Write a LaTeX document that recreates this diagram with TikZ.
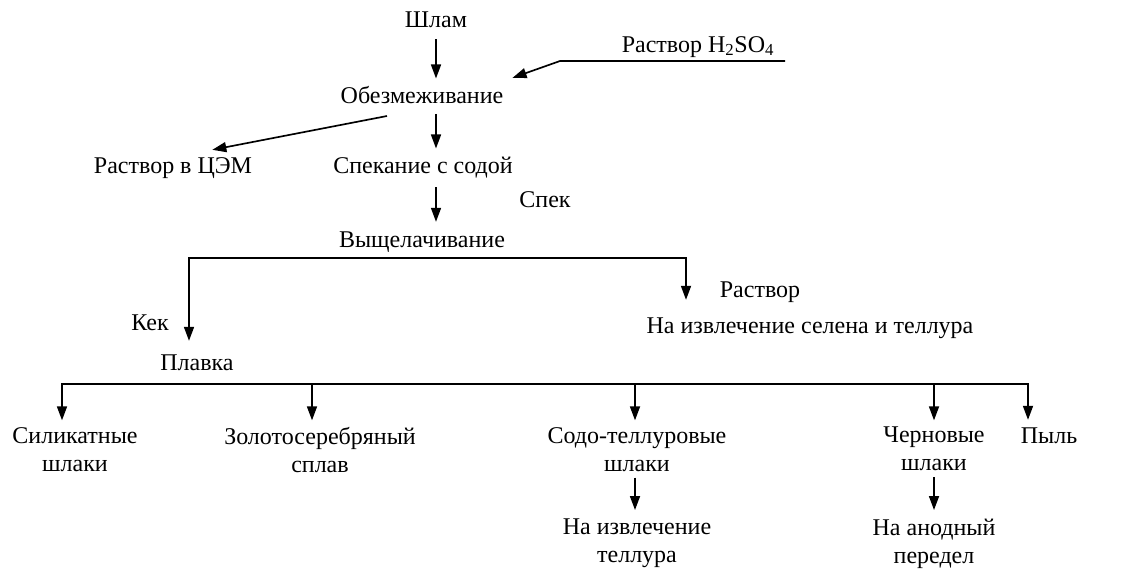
\documentclass[tikz,border=0pt]{standalone}
\usepackage{fontspec}
\setmainfont{Liberation Serif}
\usetikzlibrary{arrows.meta}

\tikzset{
	lbl/.style={font=\fontsize{18}{21}\selectfont,inner sep=0pt,text height=12.2pt,text depth=4pt,anchor=base},
	blk/.style={font=\fontsize{18}{21}\selectfont,inner sep=0pt,align=center,anchor=north},
	arr/.style={line width=1.25pt,-{Triangle[length=10.5pt,width=7.5pt]}},
	ln/.style={line width=1.25pt}
}

\begin{document}
\begin{tikzpicture}[x=0.75pt,y=-0.75pt]
		\useasboundingbox (0,0) rectangle (1126,568);
		
		\node [lbl] (slam) at (436,27) {Шлам};
		\node [lbl] (h2so4) at (698,52) {Раствор H\textsubscript{2}SO\textsubscript{4}};
		\node [lbl] (obez) at (422,103) {Обезмеживание};
		\node [lbl] (cem) at (173,173) {Раствор в ЦЭМ};
		\node [lbl] (spek) at (423,173) {Спекание с содой};
		\node [lbl] (spk) at (545,207) {Спек};
		\node [lbl] (vysh) at (422,247) {Выщелачивание};
		\node [lbl] (kek) at (150,330) {Кек};
		\node [lbl] (rastv) at (760,297) {Раствор};
		\node [lbl] (selen) at (810,333) {На извлечение селена и теллура};
		\node [lbl] (plav) at (197,370) {Плавка};
		
		\node [blk] (sil) at (75,427) {Силикатные\\шлаки};
		\node [blk] (zol) at (320,427) {Золотосеребряный\\сплав};
		\node [blk] (sodo) at (637,427) {Содо-теллуровые\\шлаки};
		\node [blk] (cher) at (934,427) {Черновые\\шлаки};
		\node [lbl] (pyl) at (1049,443) {Пыль};
		\node [blk] (tel) at (637,519) {На извлечение\\теллура};
		\node [blk] (anod) at (934,519) {На анодный\\передел};
		
		\coordinate (hR) at (785,61);
		\coordinate (hL) at (560,61);
		\coordinate (o1) at (387,116);
		\coordinate (bL) at (189,258);
		\coordinate (bR) at (686,258);
		\coordinate (c1) at (62,384);
		\coordinate (c2) at (312,384);
		\coordinate (c3) at (635,384);
		\coordinate (c4) at (934,384);
		\coordinate (c5) at (1028,384);
		
		\draw [arr,shorten <=5pt,shorten >=6pt] (slam.south) -- (slam.south |- obez.north);
		\draw [arr] (hR) -- (hL) -- ([xshift=6.75pt,yshift=6.5pt]obez.north east);
		\draw [arr] (o1) -- ([xshift=-30pt,yshift=5pt]cem.north east);
		\draw [arr,shorten <=4pt,shorten >=6pt] (obez.south -| slam.south) -- (spek.north -| slam.south);
		\draw [arr,shorten <=6.5pt,shorten >=6.5pt] (spek.south -| slam.south) -- (vysh.north -| slam.south);
		
		\draw [arr,shorten >=9.5pt] (bR) -- (bL) -- (bL |- plav.north);
		\draw [arr,shorten >=12.5pt] (bL) -- (bR) -- (bR |- selen.north);
		
		\draw [arr,shorten >=5pt] (c2) -- (c1) -- (c1 |- sil.north);
		\draw [arr,shorten >=5pt] (c4) -- (c5) -- (c5 |- pyl.north);
		\draw [ln] (c2) -- (c4);
		\draw [arr,shorten >=5pt] (c2) -- (c2 |- zol.north);
		\draw [arr,shorten >=5pt] (c3) -- (c3 |- sodo.north);
		\draw [arr,shorten >=5pt] (c4) -- (c4 |- cher.north);
		
		\draw [arr,shorten <=4.5pt,shorten >=6.75pt] (sodo.south -| c3) -- (tel.north -| c3);
		\draw [arr,shorten <=4.5pt,shorten >=6.75pt] (cher.south -| c4) -- (anod.north -| c4);
		
\end{tikzpicture}
\end{document}
